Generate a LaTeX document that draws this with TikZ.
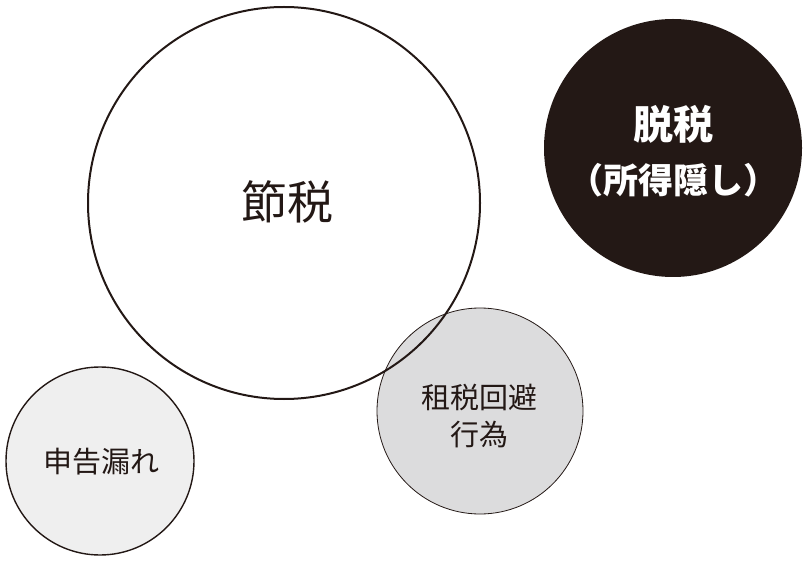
\documentclass[tikz,border=0pt]{standalone}
\usepackage{fontspec}
\setmainfont{Noto Sans CJK JP}
\definecolor{ink}{HTML}{231815}
\definecolor{grayfill}{HTML}{DCDCDD}
\definecolor{lightfill}{HTML}{EFEFEF}
\tikzset{
  bubble/.style={circle, inner sep=0pt, outer sep=0pt},
  lbl/.style={inner sep=0pt, text=ink, anchor=center},
}
\begin{document}
\begin{tikzpicture}[x=1pt,y=-1pt]
\useasboundingbox (0,0) rectangle (811,577);
% light circle
\node[bubble, draw=ink, line width=1.4pt, fill=lightfill, minimum size=188pt] (leak) at (100,461) {};
% gray circle
\node[bubble, draw=ink, line width=0.8pt, fill=grayfill, minimum size=206pt] (avoid) at (480,411) {};
% big circle
\node[bubble, draw=ink, line width=2pt, minimum size=392pt] (saving) at (284,203) {};
% black circle
\node[bubble, fill=ink, minimum size=258pt] (evasion) at (673,148) {};
% labels
\node[lbl, font=\fontsize{46}{46}\selectfont] (tsaving) at (287,202) {節税};
\node[lbl, font=\fontsize{29}{29}\selectfont] (tleak) at (101,462) {申告漏れ};
\node[lbl, font=\fontsize{29}{29}\selectfont] (tavoid1) at (479,397) {租税回避};
\node[lbl, font=\fontsize{29}{29}\selectfont] (tavoid2) at (479,435) {行為};
\node[lbl, text=white, font=\fontsize{40}{40}\selectfont\bfseries] (tev1) at (673,124) {脱税};
\node[lbl, text=white, font=\fontsize{35}{35}\selectfont\bfseries] (tev2) at (673,180) {（所得隠し）};
\end{tikzpicture}
\end{document}
